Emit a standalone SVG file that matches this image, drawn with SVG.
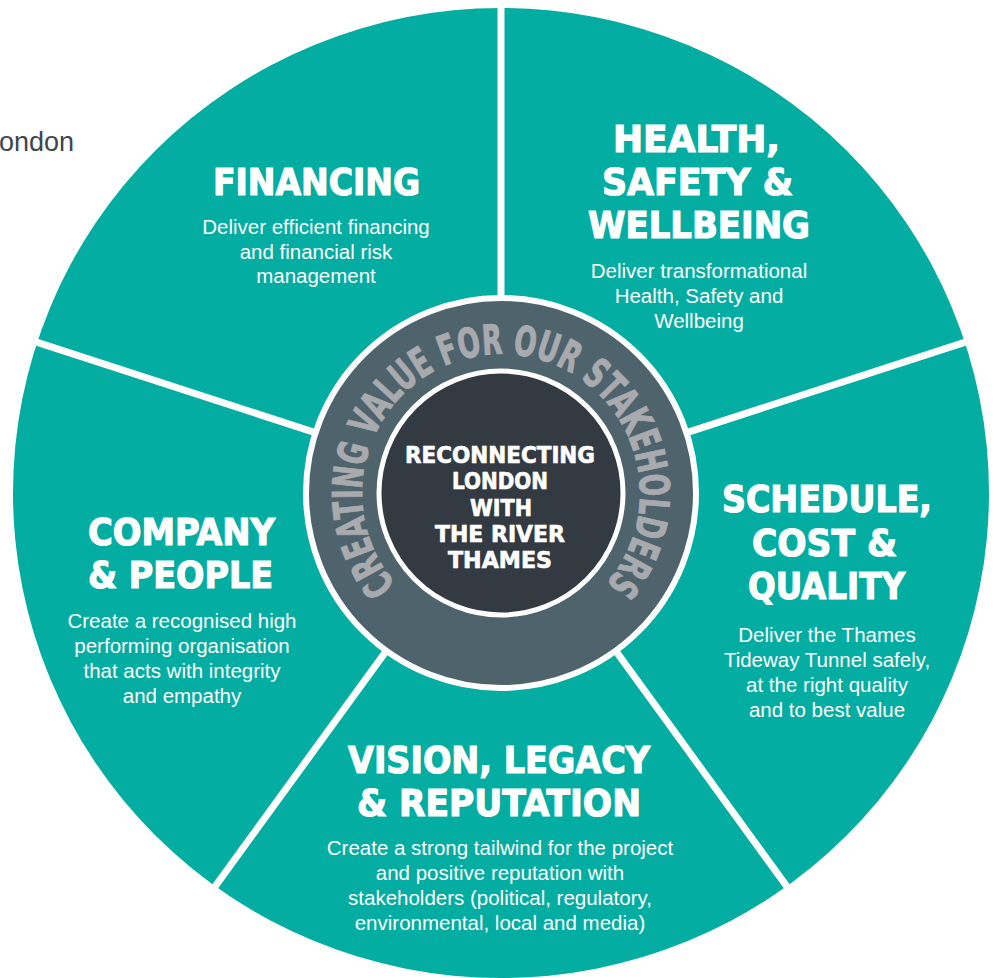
<svg xmlns="http://www.w3.org/2000/svg" width="994" height="978" viewBox="0 0 994 978">
<style>
.head{font-family:"DejaVu Sans Condensed","DejaVu Sans",sans-serif;font-weight:bold;font-size:36.8px;fill:#ffffff;stroke:#ffffff;stroke-width:1.1;text-anchor:middle}
.desc{font-family:"Liberation Sans",Arial,sans-serif;font-size:20.5px;fill:#ffffff;text-anchor:middle}
.core{font-family:"DejaVu Sans Condensed","DejaVu Sans",sans-serif;font-weight:bold;font-size:22.5px;fill:#ffffff;stroke:#ffffff;stroke-width:0.6;text-anchor:middle}
.ring{font-family:"DejaVu Sans Condensed","DejaVu Sans",sans-serif;font-weight:bold;font-size:41px;fill:#a8aaae;stroke:#a8aaae;stroke-width:1}
.div{stroke:#ffffff;stroke-width:7;fill:none}
</style>
<defs>
<path id="ringPath" d="M411.65,599.48 A139,139 0 1 1 590.35,599.48"/>
</defs>
<rect width="994" height="978" fill="#ffffff"/>
<text x="-1" y="151" font-family="Liberation Sans, Arial, sans-serif" font-size="27" fill="#3d4550">ondon</text>
<g id="wheel">
<ellipse cx="501" cy="493" rx="488" ry="485" fill="#03ada2"/>
</g>
<g id="connectors">
<line class="div" x1="501" y1="493" x2="501" y2="0"/>
<line class="div" x1="501" y1="493" x2="25" y2="338.3"/>
<line class="div" x1="501" y1="493" x2="977" y2="338.3"/>
<line class="div" x1="501" y1="493" x2="207" y2="897.6"/>
<line class="div" x1="501" y1="493" x2="795" y2="897.6"/>
</g>
<g id="ring">
<circle cx="501" cy="493" r="195" fill="#4f636d" stroke="#ffffff" stroke-width="6"/>
<text class="ring"><textPath href="#ringPath" startOffset="50%" text-anchor="middle" textLength="636" lengthAdjust="spacingAndGlyphs">CREATING VALUE FOR OUR STAKEHOLDERS</textPath></text>
</g>
<g id="core">
<circle cx="501" cy="493" r="122" fill="#343a42" stroke="#ffffff" stroke-width="5"/>
<text class="core"><tspan x="500" y="463" textLength="190" lengthAdjust="spacingAndGlyphs">RECONNECTING</tspan><tspan x="500" y="489.3" textLength="96" lengthAdjust="spacingAndGlyphs">LONDON</tspan><tspan x="501" y="515.6" textLength="62" lengthAdjust="spacingAndGlyphs">WITH</tspan><tspan x="500" y="541.9" textLength="130" lengthAdjust="spacingAndGlyphs">THE RIVER</tspan><tspan x="500" y="568.2" textLength="104" lengthAdjust="spacingAndGlyphs">THAMES</tspan></text>
</g>
<g id="financing">
<text class="head" x="316.5" y="195" textLength="207" lengthAdjust="spacingAndGlyphs">FINANCING</text>
<text class="desc"><tspan x="316" y="234">Deliver efficient financing</tspan><tspan x="316" y="259">and financial risk</tspan><tspan x="316" y="283">management</tspan></text>
</g>
<g id="health">
<text class="head"><tspan x="696.5" y="152" textLength="167" lengthAdjust="spacingAndGlyphs">HEALTH,</tspan><tspan x="697.5" y="195" textLength="191" lengthAdjust="spacingAndGlyphs">SAFETY &amp;</tspan><tspan x="699" y="238" textLength="222" lengthAdjust="spacingAndGlyphs">WELLBEING</tspan></text>
<text class="desc"><tspan x="699" y="278">Deliver transformational</tspan><tspan x="699" y="303">Health, Safety and</tspan><tspan x="699" y="328">Wellbeing</tspan></text>
</g>
<g id="schedule">
<text class="head"><tspan x="827" y="512" textLength="210" lengthAdjust="spacingAndGlyphs">SCHEDULE,</tspan><tspan x="824.5" y="555.5" textLength="145" lengthAdjust="spacingAndGlyphs">COST &amp;</tspan><tspan x="826.5" y="599" textLength="157" lengthAdjust="spacingAndGlyphs">QUALITY</tspan></text>
<text class="desc"><tspan x="827" y="642">Deliver the Thames</tspan><tspan x="827" y="667">Tideway Tunnel safely,</tspan><tspan x="827" y="692">at the right quality</tspan><tspan x="827" y="717">and to best value</tspan></text>
</g>
<g id="company">
<text class="head"><tspan x="181.5" y="544.5" textLength="187" lengthAdjust="spacingAndGlyphs">COMPANY</tspan><tspan x="180.5" y="587.5" textLength="185" lengthAdjust="spacingAndGlyphs">&amp; PEOPLE</tspan></text>
<text class="desc"><tspan x="182" y="628">Create a recognised high</tspan><tspan x="182" y="653">performing organisation</tspan><tspan x="182" y="678">that acts with integrity</tspan><tspan x="182" y="703">and empathy</tspan></text>
</g>
<g id="vision">
<text class="head"><tspan x="499" y="773" textLength="302" lengthAdjust="spacingAndGlyphs">VISION, LEGACY</tspan><tspan x="499" y="816" textLength="284" lengthAdjust="spacingAndGlyphs">&amp; REPUTATION</tspan></text>
<text class="desc"><tspan x="500" y="855">Create a strong tailwind for the project</tspan><tspan x="500" y="880">and positive reputation with</tspan><tspan x="500" y="905">stakeholders (political, regulatory,</tspan><tspan x="500" y="930">environmental, local and media)</tspan></text>
</g>
</svg>
